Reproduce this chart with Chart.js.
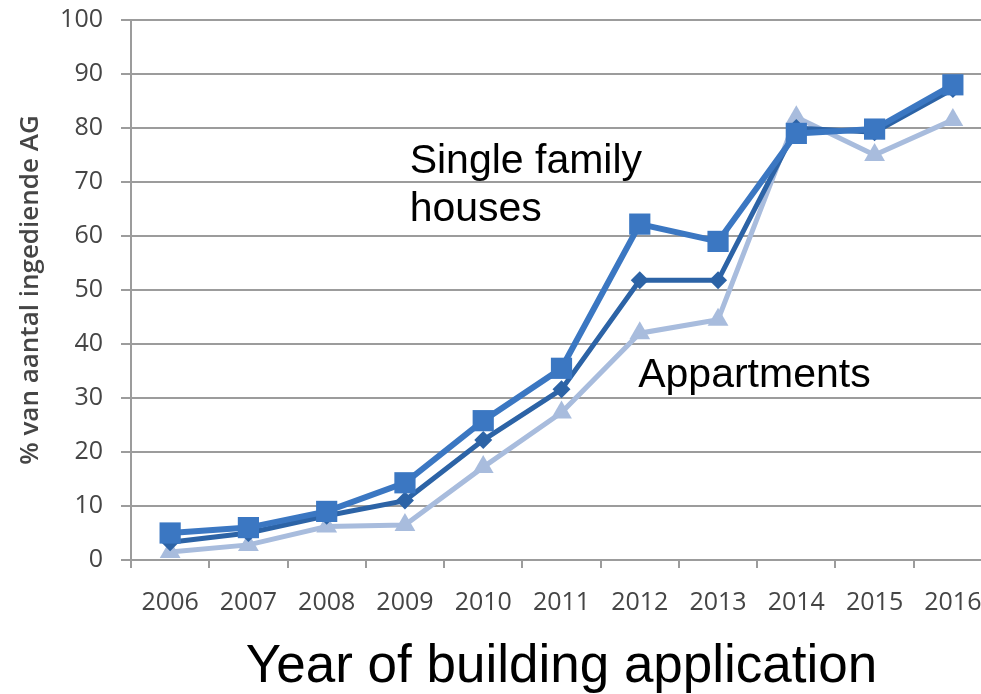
<!DOCTYPE html>
<html>
<head>
<meta charset="utf-8">
<script src="https://cdn.jsdelivr.net/npm/chart.js@4/dist/chart.umd.min.js"></script>
<style>
  html, body { margin: 0; padding: 0; background: #fff; overflow: hidden; }
  canvas { display: block; }
</style>
</head>
<body>
<canvas id="chart" width="995" height="694"></canvas>
<script>
const years = ["2006", "2007", "2008", "2009", "2010", "2011", "2012", "2013", "2014", "2015", "2016"];
const houses = [5, 6, 9, 14.3, 25.8, 35.5, 62.2, 59, 79, 79.8, 88];
const total = [3.3, 5, 8.2, 11, 22.2, 31.6, 51.8, 51.8, 80, 79.2, 87.2];
const apartments = [1.5, 2.8, 6.2, 6.5, 17.2, 27.3, 42, 44.5, 82, 75, 81.5];
const yTicks = [0, 10, 20, 30, 40, 50, 60, 70, 80, 90, 100];

// text labels placed in data space: x = category index, y = value of the first baseline
const notes = [
  { lines: ["Single family", "houses"], x: 3.06, y: 71.6 },
  { lines: ["Appartments"], x: 5.98, y: 32.0 },
];

const GRID = "#9c9c9c";
const TICK_TEXT = "#454545";

const notesPlugin = {
  id: "notes",
  afterDatasetsDraw(chart) {
    const ctx = chart.ctx;
    const xs = chart.scales.x;
    const ys = chart.scales.y;
    ctx.save();
    ctx.fillStyle = "#000";
    ctx.font = "41px 'Liberation Sans', Arial, sans-serif";
    ctx.textBaseline = "alphabetic";
    ctx.textAlign = "left";
    for (const n of notes) {
      const px = xs.getPixelForValue(n.x);
      const py = ys.getPixelForValue(n.y);
      n.lines.forEach((line, i) => ctx.fillText(line, px, py + i * 48));
    }
    ctx.restore();
  },
};

new Chart(document.getElementById("chart"), {
  type: "line",
  data: {
    labels: years,
    datasets: [
      {
        data: houses,
        borderColor: "#3b77c2",
        backgroundColor: "#3b77c2",
        borderWidth: 6,
        pointStyle: "rect",
        pointRadius: 15,
        pointBorderWidth: 0,
        order: 1,
      },
      {
        data: total,
        borderColor: "#2c63a6",
        backgroundColor: "#2c63a6",
        borderWidth: 5,
        pointStyle: "rectRot",
        pointRadius: 9,
        pointBorderWidth: 0,
        order: 2,
      },
      {
        data: apartments,
        borderColor: "#a8bcdd",
        backgroundColor: "#a8bcdd",
        borderWidth: 5,
        pointStyle: "triangle",
        pointRadius: 12,
        pointBorderWidth: 0,
        order: 3,
      },
    ],
  },
  options: {
    responsive: false,
    animation: false,
    layout: { autoPadding: false, padding: { top: 20, right: 3, left: 0, bottom: 0 } },
    plugins: { legend: { display: false }, tooltip: { enabled: false } },
    elements: { line: { tension: 0 } },
    scales: {
      x: {
        offset: true,
        afterFit(scale) {
          scale.height = 134;
          scale.paddingLeft = 0;
          scale.paddingRight = 0;
        },
        grid: {
          offset: true,
          drawOnChartArea: false,
          color: GRID,
          lineWidth: 2,
          tickLength: 8,
        },
        border: { display: false },
        ticks: {
          color: TICK_TEXT,
          padding: 20,
          maxRotation: 0,
          autoSkip: false,
          font: { family: "'Open Sans', sans-serif", size: 25 },
        },
        title: {
          display: true,
          text: "Year of building application",
          color: "#000",
          padding: { top: 0, bottom: 0 },
          font: { family: "'Liberation Sans', Arial, sans-serif", size: 53, lineHeight: 1 },
        },
      },
      y: {
        min: 0,
        max: 100,
        afterFit(scale) {
          scale.width = 131;
          // label padding would otherwise push the plot top down
          scale.paddingTop = 15;
          scale.paddingBottom = 15;
        },
        afterBuildTicks(scale) { scale.ticks = yTicks.map((v) => ({ value: v })); },
        grid: { color: GRID, lineWidth: 2, tickLength: 10 },
        border: { color: GRID, width: 2 },
        ticks: {
          color: TICK_TEXT,
          padding: 18,
          font: { family: "'Open Sans', sans-serif", size: 25 },
        },
        title: {
          display: true,
          text: "% van aantal ingediende AG",
          color: "#454545",
          padding: { top: 15, bottom: 0 },
          font: { family: "'Open Sans', sans-serif", size: 26, weight: "600" },
        },
      },
    },
  },
  plugins: [notesPlugin],
});
</script>
</body>
</html>
